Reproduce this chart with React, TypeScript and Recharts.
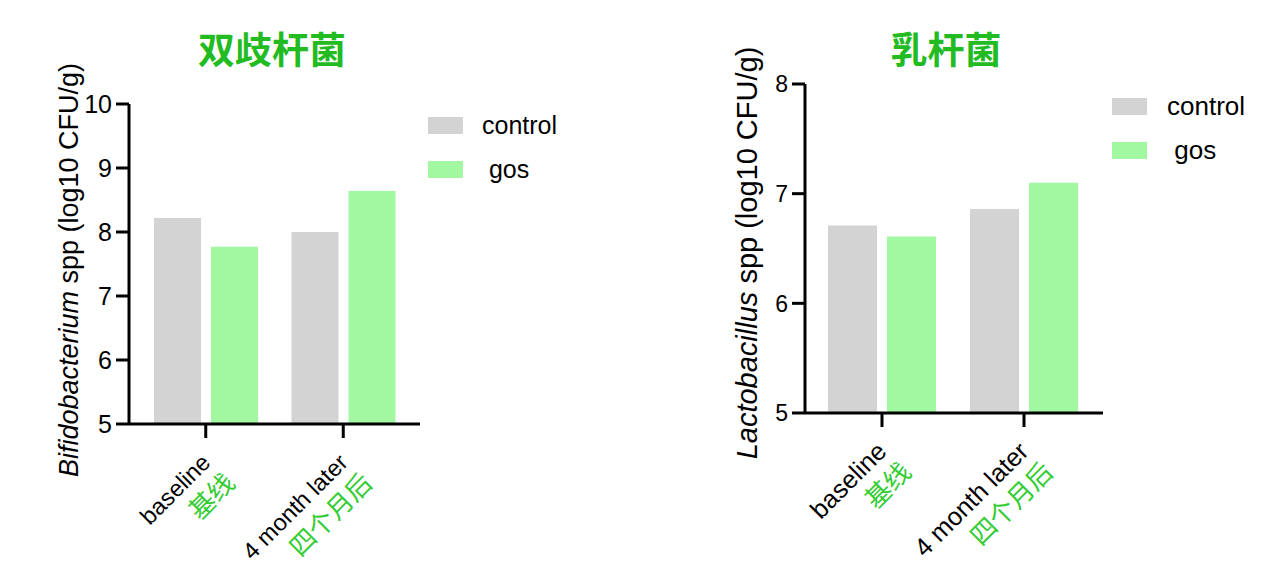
import React from 'react'
import { BarChart, Bar, XAxis, YAxis } from 'recharts'

const categories = ['baseline', '4 month later']
const categoriesZh = ['基线', '四个月后']
const seriesNames = ['control', ' gos']

const bifidoControl = [8.22, 8.0]
const bifidoGos = [7.77, 8.64]
const bifidoTicks = [5, 6, 7, 8, 9, 10]

const lactoControl = [6.71, 6.86]
const lactoGos = [6.61, 7.1]
const lactoTicks = [5, 6, 7, 8]

const GRAY = '#d3d3d3'
const GREEN = '#a2f8a0'
const FONT = '"Liberation Sans", Arial, sans-serif'
const CJK = '"Noto Sans CJK SC", sans-serif'

const makeRows = (a: number[], b: number[]) =>
  categories.map((c, i) => ({ name: c, zh: categoriesZh[i], control: a[i], gos: b[i] }))

function XTick(props: any) {
  const { x, y, payload, index, fs } = props
  return (
    <g transform={`translate(${x + 6},${y + 24}) rotate(-45)`}>
      <text textAnchor="end" fontSize={fs} fontFamily={FONT} fill="#000">
        {payload.value}
      </text>
      <text textAnchor="end" y={32} dx={3} fontSize={26} fontFamily={CJK} fill="#33cc33">
        {categoriesZh[index]}
      </text>
    </g>
  )
}

function YTick(props: any) {
  const { x, y, payload, fs } = props
  return (
    <text x={x} y={y} dy={fs * 0.36} textAnchor="end" fontSize={fs} fontFamily={FONT} fill="#000">
      {payload.value}
    </text>
  )
}

function YLabel({ lx, ly, italic, rest, fs }: any) {
  return (
    <text
      x={lx}
      y={ly}
      transform={`rotate(-90, ${lx}, ${ly})`}
      textAnchor="middle"
      fontSize={fs}
      fontFamily={FONT}
      fill="#000"
    >
      <tspan fontStyle="italic">{italic}</tspan>
      <tspan>{rest}</tspan>
    </text>
  )
}

function Panel(p: any) {
  const rows = makeRows(p.control, p.gos)
  return (
    <div style={{ position: 'absolute', left: p.left, top: 0, width: p.width, height: 568 }}>
      <div
        style={{
          position: 'absolute',
          left: p.titleX - p.left - 150,
          width: 300,
          top: 27,
          lineHeight: '42px',
          textAlign: 'center',
          fontFamily: CJK,
          fontWeight: 700,
          fontSize: 37,
          color: '#22bb22',
        }}
      >
        {p.title}
      </div>
      <BarChart
        width={p.width}
        height={568}
        data={rows}
        margin={p.margin}
        barSize={p.barSize}
        barGap={10}
      >
        <XAxis
          dataKey="name"
          height={120}
          padding={p.padding}
          interval={0}
          tickSize={14}
          tickMargin={2}
          axisLine={{ stroke: '#000', strokeWidth: 3 }}
          tickLine={{ stroke: '#000', strokeWidth: 3 }}
          tick={<XTick fs={p.xFs} />}
        />
        <YAxis
          width={60}
          domain={[p.ticks[0], p.ticks[p.ticks.length - 1]]}
          ticks={p.ticks}
          interval={0}
          tickSize={13}
          tickMargin={4}
          allowDataOverflow
          axisLine={{ stroke: '#000', strokeWidth: 3 }}
          tickLine={{ stroke: '#000', strokeWidth: 3 }}
          tick={<YTick fs={p.tickFs} />}
          label={<YLabel lx={p.labelX} ly={p.labelY} italic={p.italic} rest={p.rest} fs={p.labelFs} />}
        />
        <Bar dataKey="control" name={seriesNames[0]} fill={GRAY} isAnimationActive={false} />
        <Bar dataKey="gos" name={seriesNames[1]} fill={GREEN} isAnimationActive={false} />
      </BarChart>
      {seriesNames.map((s, i) => (
        <div
          key={s}
          style={{
            position: 'absolute',
            left: p.legendX - p.left,
            top: p.legendY + i * 44,
            height: 17,
            display: 'flex',
            alignItems: 'center',
          }}
        >
          <div style={{ width: 35, height: 17, background: i === 0 ? GRAY : GREEN }} />
          <span
            style={{
              marginLeft: p.legendGap,
              fontFamily: FONT,
              fontSize: p.legendFs,
              whiteSpace: 'pre',
              color: '#000',
            }}
          >
            {s}
          </span>
        </div>
      ))}
    </div>
  )
}

export default function App() {
  return (
    <div style={{ position: 'absolute', left: 0, top: 0, width: 1268, height: 568, background: '#fff', overflow: 'hidden' }}>
      <Panel
        left={0}
        width={600}
        title="双歧杆菌"
        titleX={272}
        control={bifidoControl}
        gos={bifidoGos}
        ticks={bifidoTicks}
        margin={{ top: 104, right: 180, bottom: 24, left: 69 }}
        padding={{ left: 8, right: 8 }}
        barSize={47}
        labelX={78}
        labelY={270}
        labelFs={27}
        tickFs={25}
        xFs={23.5}
        italic="Bifidobacterium"
        rest=" spp (log10 CFU/g)"
        legendX={428}
        legendY={117}
        legendFs={25}
        legendGap={19}
      />
      <Panel
        left={680}
        width={588}
        title="乳杆菌"
        titleX={946}
        control={lactoControl}
        gos={lactoGos}
        ticks={lactoTicks}
        margin={{ top: 84, right: 165, bottom: 35, left: 65 }}
        padding={{ left: 6, right: 8 }}
        barSize={49}
        labelX={77}
        labelY={253}
        labelFs={29}
        tickFs={23}
        xFs={25.5}
        italic="Lactobacillus"
        rest=" spp (log10 CFU/g)"
        legendX={1112}
        legendY={98}
        legendFs={26}
        legendGap={20}
      />
    </div>
  )
}
